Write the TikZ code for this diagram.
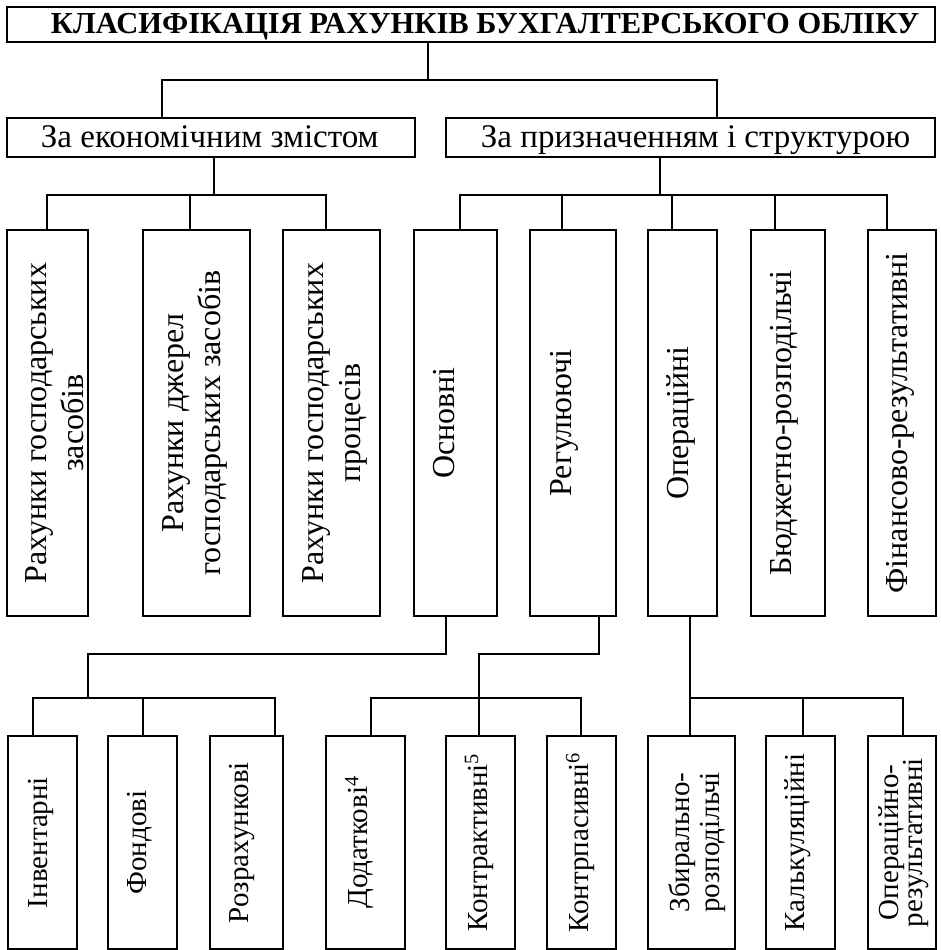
\documentclass[tikz,border=0pt]{standalone}
\usepackage{fontspec}
\setmainfont{Liberation Serif}

\tikzset{
  box/.style={draw, line width=2.5pt, inner sep=0pt},
  link/.style={line width=2.5pt},
  htext/.style={anchor=base west, inner sep=0pt},
  vtext/.style={rotate=90, anchor=north, align=center, inner sep=0pt},
  kind/.style={box, minimum height=386pt},
  sub/.style={box, minimum height=213pt},
}

\begin{document}
\begin{tikzpicture}[x=1pt, y=-1pt]
    \useasboundingbox (0,0) rectangle (941,950);

    \node[box, minimum width=928pt, minimum height=35pt] (title) at (471,24.5) {};
    \node[box, minimum width=408pt, minimum height=39pt] (econ) at (211,137.5) {};
    \node[box, minimum width=489pt, minimum height=39pt] (purp) at (690.5,137.5) {};

    \node[htext, font=\fontsize{30.5}{34}\selectfont\bfseries] (title-t) at ([xshift=45pt, yshift=-9.5pt]title.west) {КЛАСИФІКАЦІЯ РАХУНКІВ БУХГАЛТЕРСЬКОГО ОБЛІКУ};
    \node[htext, font=\fontsize{33}{37}\selectfont] (econ-t) at ([xshift=35pt, yshift=-9.5pt]econ.west) {За економічним змістом};
    \node[htext, font=\fontsize{33}{37}\selectfont] (purp-t) at ([xshift=36pt, yshift=-9.5pt]purp.west) {За призначенням і структурою};

    \node[kind, minimum width=81pt] (assets) at (47.5,423) {};
    \node[kind, minimum width=107pt] (sources) at (196.5,423) {};
    \node[kind, minimum width=97pt] (process) at (331.5,423) {};
    \node[kind, minimum width=83pt] (basic) at (455.5,423) {};
    \node[kind, minimum width=86pt] (regul) at (573,423) {};
    \node[kind, minimum width=69pt] (oper) at (682.5,423) {};
    \node[kind, minimum width=74pt] (budget) at (788,423) {};
    \node[kind, minimum width=68pt] (finres) at (902,423) {};

    \begin{scope}[font=\fontsize{32}{37}\selectfont]
    \node[vtext] (assets-t) at ([xshift=20pt]assets.west) {Рахунки господарських\\засобів};
    \node[vtext] (sources-t) at ([xshift=21pt]sources.west) {Рахунки джерел\\господарських засобів};
    \node[vtext] (process-t) at ([xshift=21pt]process.west) {Рахунки господарських\\процесів};
    \node[vtext] (basic-t) at ([xshift=20pt]basic.west) {Основні};
    \node[vtext] (regul-t) at ([xshift=21pt]regul.west) {Регулюючі};
    \node[vtext] (oper-t) at ([xshift=20pt]oper.west) {Операційні};
    \node[vtext] (budget-t) at ([xshift=20pt]budget.west) {Бюджетно-розподільчі};
    \node[vtext] (finres-t) at ([xshift=19pt]finres.west) {Фінансово-результативні};
    \end{scope}

    \node[sub, minimum width=69pt] (inv) at (42.5,842.5) {};
    \node[sub, minimum width=69pt] (fund) at (142.5,842.5) {};
    \node[sub, minimum width=73pt] (settle) at (246.5,842.5) {};
    \node[sub, minimum width=79pt] (add) at (365.5,842.5) {};
    \node[sub, minimum width=69pt] (ctra) at (480.5,842.5) {};
    \node[sub, minimum width=69pt] (ctrp) at (581.5,842.5) {};
    \node[sub, minimum width=87pt] (distr) at (691.5,842.5) {};
    \node[sub, minimum width=69pt] (calc) at (800.5,842.5) {};
    \node[sub, minimum width=68pt] (opres) at (902,842.5) {};

    \begin{scope}[font=\fontsize{29}{30}\selectfont]
    \node[vtext] (inv-t) at ([xshift=21pt]inv.west) {Інвентарні};
    \node[vtext] (fund-t) at ([xshift=20pt]fund.west) {Фондові};
    \node[vtext] (settle-t) at ([xshift=20pt]settle.west) {Розрахункові};
    \node[vtext] (add-t) at ([xshift=20pt]add.west) {Додаткові\textsuperscript{4}};
    \node[vtext] (ctra-t) at ([xshift=20pt]ctra.west) {Контрактивні\textsuperscript{5}};
    \node[vtext] (ctrp-t) at ([xshift=20pt]ctrp.west) {Контрпасивні\textsuperscript{6}};
    \node[vtext] (distr-t) at ([xshift=22pt]distr.west) {Збирально-\\розподільчі};
    \node[vtext] (calc-t) at ([xshift=20pt]calc.west) {Калькуляційні};
    \node[vtext] (opres-t) at ([xshift=12pt]opres.west) {Операційно-\\[-6pt]результативні};
    \end{scope}

    \coordinate (j0) at (428,80);
    \coordinate (t1) at (162,80);
    \coordinate (t2) at (717,80);
    \draw[link] (title.south -| j0) -- (j0);
    \draw[link] (econ.north -| t1) -- (t1) -- (t2) -- (purp.north -| t2);

    \coordinate (e0) at (214,195);
    \coordinate (e1) at (47,195);
    \coordinate (e2) at (190,195);
    \coordinate (e3) at (326,195);
    \draw[link] (econ.south -| e0) -- (e0);
    \draw[link] (assets.north -| e1) -- (e1) -- (e3) -- (process.north -| e3);
    \draw[link] (e2) -- (sources.north -| e2);

    \coordinate (p0) at (660,195);
    \coordinate (p1) at (460,195);
    \coordinate (p2) at (562,195);
    \coordinate (p3) at (672,195);
    \coordinate (p4) at (775,195);
    \coordinate (p5) at (887,195);
    \draw[link] (purp.south -| p0) -- (p0);
    \draw[link] (basic.north -| p1) -- (p1) -- (p5) -- (finres.north -| p5);
    \foreach \n/\c in {regul/p2, oper/p3, budget/p4}
        \draw[link] (\c) -- (\n.north -| \c);

    \coordinate (s0) at (446,654);
    \coordinate (s1) at (88,654);
    \coordinate (s2) at (88,698);
    \coordinate (s3) at (33,698);
    \coordinate (s4) at (143,698);
    \coordinate (s5) at (275,698);
    \draw[link] (basic.south -| s0) -- (s0) -- (s1) -- (s2);
    \draw[link] (inv.north -| s3) -- (s3) -- (s5) -- (settle.north -| s5);
    \draw[link] (s4) -- (fund.north -| s4);

    \coordinate (r0) at (599,654);
    \coordinate (r1) at (479,654);
    \coordinate (r2) at (371,698);
    \coordinate (r4) at (581,698);
    \draw[link] (regul.south -| r0) -- (r0) -- (r1) -- (ctra.north -| r1);
    \draw[link] (add.north -| r2) -- (r2) -- (r4) -- (ctrp.north -| r4);

    \coordinate (o0) at (690,698);
    \coordinate (o1) at (803,698);
    \coordinate (o2) at (903,698);
    \draw[link] (oper.south -| o0) -- (distr.north -| o0);
    \draw[link] (o0) -- (o2) -- (opres.north -| o2);
    \draw[link] (o1) -- (calc.north -| o1);
\end{tikzpicture}
\end{document}
